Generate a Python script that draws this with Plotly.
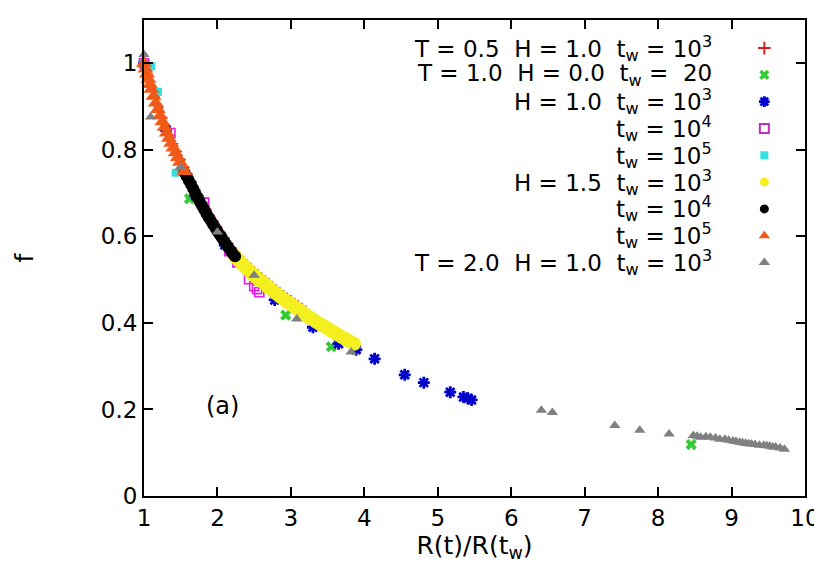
import plotly.graph_objects as go

FONT = "DejaVu Sans, Verdana, sans-serif"

# ---------------- data ----------------
# T = 0.5, H = 1.0, tw = 1e3  (red plus)
red_x = [1.00, 1.05, 1.10, 1.15, 1.20, 1.25, 1.30, 1.35, 1.40, 1.45, 1.50, 1.55, 1.60, 1.65, 1.70,
         1.75, 1.80, 1.85, 1.90, 1.95, 2.00, 2.05, 2.10, 2.15, 2.20, 2.25, 2.30, 2.35, 2.40, 2.45,
         2.50, 2.55, 2.60, 2.65, 2.70, 2.75, 2.80, 2.85, 2.90, 2.95, 3.00, 3.05, 3.10, 3.15, 3.20]
red_y = [1.000, 0.975, 0.948, 0.922, 0.898, 0.875, 0.855, 0.833, 0.814, 0.796, 0.778, 0.760, 0.743,
         0.726, 0.709, 0.694, 0.678, 0.663, 0.648, 0.635, 0.622, 0.609, 0.596, 0.584, 0.573, 0.562,
         0.553, 0.544, 0.536, 0.528, 0.520, 0.513, 0.506, 0.499, 0.492, 0.485, 0.478, 0.471, 0.465,
         0.459, 0.453, 0.447, 0.441, 0.435, 0.429]

# T = 1.0, H = 0.0, tw = 20  (green cross)
green_x = [1.00, 1.62, 2.93, 3.55, 8.45]
green_y = [1.000, 0.687, 0.418, 0.345, 0.119]

# T = 1.0, H = 1.0, tw = 1e3  (blue star)
blue_x = [1.00, 1.30, 1.70, 2.10, 2.78, 3.30, 3.65, 3.89, 4.14, 4.55, 4.81, 5.17, 5.35, 5.41, 5.46]
blue_y = [1.000, 0.845, 0.695, 0.580, 0.453, 0.390, 0.352, 0.338, 0.317, 0.280, 0.262, 0.240,
          0.229, 0.226, 0.222]

# T = 1.0, H = 1.0, tw = 1e4  (magenta open square)
magenta_x = [1.00, 1.36, 1.82, 2.16, 2.27, 2.43, 2.50, 2.54, 2.57]
magenta_y = [1.000, 0.839, 0.678, 0.566, 0.540, 0.501, 0.485, 0.478, 0.471]

# T = 1.0, H = 1.0, tw = 1e5  (cyan filled square)
cyan_x = [1.00, 1.03, 1.10, 1.16, 1.19, 1.43]
cyan_y = [1.000, 0.975, 0.993, 0.931, 0.934, 0.747]

# T = 1.0, H = 1.5, tw = 1e3  (yellow circle)
yellow_x = [2.24, 2.28, 2.32, 2.36, 2.40, 2.44, 2.48, 2.52, 2.56, 2.60, 2.65, 2.70, 2.75, 2.80,
            2.85, 2.90, 2.95, 3.00, 3.05, 3.10, 3.15, 3.20, 3.25, 3.30, 3.35, 3.40, 3.45, 3.50,
            3.55, 3.60, 3.65, 3.70, 3.75, 3.80, 3.86]
yellow_y = [0.554, 0.546, 0.539, 0.532, 0.526, 0.519, 0.513, 0.507, 0.501, 0.496, 0.489, 0.482,
            0.475, 0.468, 0.461, 0.455, 0.449, 0.443, 0.437, 0.431, 0.425, 0.419, 0.413, 0.408,
            0.402, 0.397, 0.392, 0.387, 0.382, 0.377, 0.372, 0.367, 0.362, 0.357, 0.352]

# T = 1.0, H = 1.5, tw = 1e4  (black circle)
black_x = [1.55, 1.58, 1.61, 1.64, 1.67, 1.70, 1.73, 1.76, 1.79, 1.82, 1.85, 1.88, 1.91, 1.94,
           1.97, 2.00, 2.03, 2.06, 2.09, 2.12, 2.15, 2.18, 2.21, 2.24]
black_y = [0.748, 0.739, 0.729, 0.720, 0.710, 0.699, 0.690, 0.680, 0.671, 0.662, 0.653, 0.644,
           0.636, 0.628, 0.620, 0.612, 0.604, 0.597, 0.589, 0.581, 0.574, 0.567, 0.560, 0.554]

# T = 1.0, H = 1.5, tw = 1e5  (orange triangle)
orange_x = [1.00, 1.02, 1.04, 1.06, 1.08, 1.10, 1.13, 1.16, 1.19, 1.22, 1.25, 1.28, 1.31, 1.34,
            1.37, 1.40, 1.43, 1.46, 1.49, 1.52, 1.55]
orange_y = [1.000, 0.987, 0.975, 0.963, 0.951, 0.940, 0.924, 0.908, 0.893, 0.879, 0.865, 0.852,
            0.839, 0.827, 0.815, 0.804, 0.793, 0.782, 0.771, 0.761, 0.750]

# T = 2.0, H = 1.0, tw = 1e3  (grey triangle)
grey_x = [1.00, 1.09, 1.50, 2.00, 2.50, 3.08, 3.82, 6.41, 6.56, 7.41, 7.75, 8.15, 8.48, 8.53,
          8.58, 8.65, 8.71, 8.78, 8.84, 8.91, 8.96, 9.02, 9.06, 9.11, 9.15, 9.19, 9.23, 9.27,
          9.32, 9.38, 9.44, 9.48, 9.52, 9.56, 9.60, 9.66, 9.72]
grey_y = [1.020, 0.876, 0.760, 0.610, 0.510, 0.409, 0.333, 0.198, 0.193, 0.163, 0.152, 0.143,
          0.140, 0.138, 0.136, 0.137, 0.136, 0.134, 0.131, 0.131, 0.129, 0.127, 0.126, 0.124,
          0.123, 0.122, 0.121, 0.120, 0.119, 0.117, 0.117, 0.116, 0.115, 0.113, 0.113, 0.111, 0.108]

legend_labels = [
    "T = 0.5\u00a0\u00a0H = 1.0\u00a0\u00a0t<sub>w</sub> = 10<sup>3</sup>",
    "T = 1.0\u00a0\u00a0H = 0.0\u00a0\u00a0t<sub>w</sub> =\u00a0\u00a020",
    "H = 1.0\u00a0\u00a0t<sub>w</sub> = 10<sup>3</sup>",
    "t<sub>w</sub> = 10<sup>4</sup>",
    "t<sub>w</sub> = 10<sup>5</sup>",
    "H = 1.5\u00a0\u00a0t<sub>w</sub> = 10<sup>3</sup>",
    "t<sub>w</sub> = 10<sup>4</sup>",
    "t<sub>w</sub> = 10<sup>5</sup>",
    "T = 2.0\u00a0\u00a0H = 1.0\u00a0\u00a0t<sub>w</sub> = 10<sup>3</sup>",
]

x_ticks = [1, 2, 3, 4, 5, 6, 7, 8, 9, 10]
y_ticks = [0, 0.2, 0.4, 0.6, 0.8, 1.0]
y_tick_text = ["0", "0.2", "0.4", "0.6", "0.8", "1"]

# ---------------- styles ----------------
styles = [
    dict(symbol="cross-thin-open", size=7, color="#d02020", line=dict(color="#c01818", width=1.6)),
    dict(symbol="x", size=10, color="#33cc33", line=dict(width=0)),
    dict(symbol="asterisk-open", size=10, color="#0000cc", line=dict(color="#0000cc", width=2.8)),
    dict(symbol="square-open", size=9, color="#e020e0", line=dict(color="#e020e0", width=1.6)),
    dict(symbol="square", size=8, color="#33e0e0", line=dict(width=0)),
    dict(symbol="circle", size=14, color="#f4f020", line=dict(width=0)),
    dict(symbol="circle", size=12, color="#000000", line=dict(width=0)),
    dict(symbol="triangle-up", size=14, color="#f25a18", line=dict(width=0)),
    dict(symbol="triangle-up", size=10, color="#808080", line=dict(width=0)),
]
key_styles = [
    dict(symbol="cross-thin-open", size=9, color="#d02020", line=dict(color="#c01818", width=2)),
    dict(symbol="x", size=9, color="#33cc33", line=dict(width=0)),
    dict(symbol="asterisk-open", size=9, color="#0000cc", line=dict(color="#0000cc", width=2.8)),
    dict(symbol="square-open", size=9, color="#c030c0", line=dict(color="#c030c0", width=2)),
    dict(symbol="square", size=8, color="#33e0e0", line=dict(width=0)),
    dict(symbol="circle", size=9, color="#f4f020", line=dict(width=0)),
    dict(symbol="circle", size=9, color="#000000", line=dict(width=0)),
    dict(symbol="triangle-up", size=10, color="#f25a18", line=dict(width=0)),
    dict(symbol="triangle-up", size=10, color="#808080", line=dict(width=0)),
]

series = [(red_x, red_y), (green_x, green_y), (blue_x, blue_y), (magenta_x, magenta_y),
          (cyan_x, cyan_y), (yellow_x, yellow_y), (black_x, black_y), (orange_x, orange_y),
          (grey_x, grey_y)]

fig = go.Figure()
for (xs, ys), st, lab in zip(series, styles, legend_labels):
    fig.add_trace(go.Scatter(x=xs, y=ys, mode="markers", marker=st, name=lab,
                             showlegend=False, cliponaxis=False))

# legend keys, drawn on an overlay axis in plot-fraction units
key_x = 0.9385
key_top = 0.941
key_step = 0.0563
text_x = 0.862
for i, st in enumerate(key_styles):
    yk = key_top - i * key_step
    fig.add_trace(go.Scatter(x=[key_x], y=[yk], xaxis="x2", yaxis="y2", mode="markers",
                             marker=st, showlegend=False, hoverinfo="skip", cliponaxis=False))
    fig.add_annotation(xref="paper", yref="paper", x=text_x, y=yk, xanchor="right",
                       yanchor="middle", text=legend_labels[i], showarrow=False,
                       font=dict(family=FONT, size=23, color="black"), align="right")

fig.add_annotation(xref="x", yref="y", x=2.07, y=0.207, text="(a)", showarrow=False,
                   font=dict(family=FONT, size=24, color="black"))

axis_common = dict(showline=True, linecolor="black", linewidth=2, mirror="ticks",
                   ticks="inside", ticklen=9, tickwidth=1.5, tickcolor="black",
                   showgrid=False, zeroline=False, tickfont=dict(family=FONT, size=23, color="black"))

fig.update_layout(
    width=822, height=569,
    margin=dict(l=136, r=19, t=10, b=81),
    plot_bgcolor="white", paper_bgcolor="white",
    font=dict(family=FONT, color="black"),
    xaxis=dict(range=[1, 10], tickmode="array", tickvals=x_ticks,
               ticktext=[str(v) for v in x_ticks],
               title=dict(text="R(t)/R(t<sub>w</sub>)", font=dict(family=FONT, size=25), standoff=4),
               **axis_common),
    yaxis=dict(range=[0, 1.1], tickmode="array", tickvals=y_ticks, ticktext=y_tick_text,
               title=dict(text="f", font=dict(family=FONT, size=25), standoff=60),
               **axis_common),
    xaxis2=dict(overlaying="x", anchor="y2", range=[0, 1], visible=False),
    yaxis2=dict(overlaying="y", anchor="x2", range=[0, 1], visible=False),
)

fig.write_html("out.html")
